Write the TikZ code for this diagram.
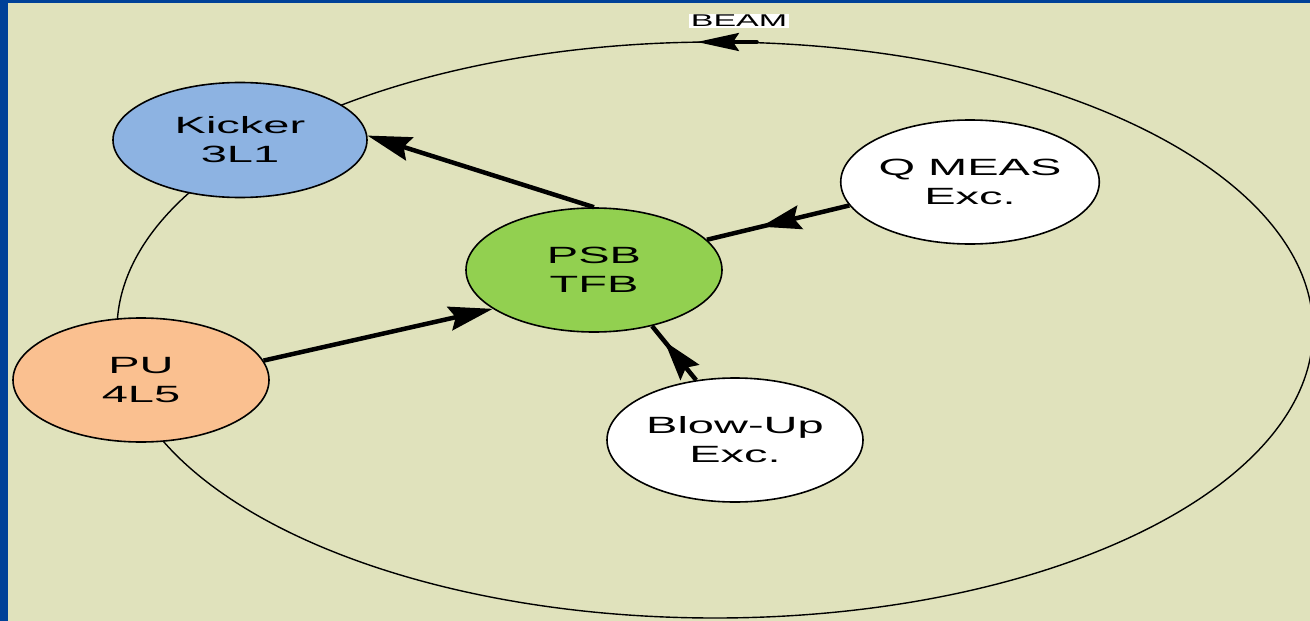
\documentclass[tikz,border=0pt]{standalone}
\usepackage{graphicx}
\usepackage{fontspec}
\setmainfont{Liberation Sans}
\usetikzlibrary{shapes.geometric,arrows.meta,decorations.markings}
\definecolor{bgc}{RGB}{224,226,188}
\definecolor{framec}{RGB}{0,65,152}
\definecolor{kickc}{RGB}{141,179,226}
\definecolor{psbc}{RGB}{146,208,80}
\definecolor{puc}{RGB}{250,192,144}
\newcommand{\widetxt}[1]{\scalebox{2}[1]{#1}}
\tikzset{
  oval/.style={ellipse, draw=black, line width=1.6pt, minimum width=256pt, minimum height=124pt, inner sep=0pt,
    align=center, font=\fontsize{23.5}{29}\selectfont},
  conn/.style={line width=4.5pt},
  endarrow/.style={conn, -{Stealth[length=44pt,width=24pt,inset=6pt]}},
  midarrow/.style={conn, postaction={decorate}, decoration={markings,
    mark=at position #1 with {\arrow{Stealth[length=40pt,width=24pt,inset=6pt]}}}}
}
\begin{document}
\begin{tikzpicture}[x=1pt,y=-1pt]
\useasboundingbox (0,0) rectangle (1310,621);
\fill[bgc] (0,0) rectangle (1310,621);
\fill[framec] (0,0) rectangle (8,621);
\fill[framec] (0,0) rectangle (1310,3);
% ring
\node[ellipse, draw=black, line width=1.4pt, minimum width=1196pt, minimum height=576pt, inner sep=0pt] (ring) at (715,330) {};
\coordinate (bs) at (757,42);
\coordinate (bt) at (697,42);
\draw[line width=3.5pt, line cap=round, -{Stealth[length=42pt,width=18pt,inset=6pt]}] (bs) -- (bt);
\node[fill=white, inner sep=1.5pt, font=\fontsize{17}{18}\selectfont] (beam) at (739,21) {\widetxt{BEAM}};
% nodes
\node[oval, fill=kickc, minimum width=254pt, minimum height=115pt] (kick) at (240,140) {\widetxt{Kicker}\\\widetxt{3L1}};
\node[oval, fill=white] (qm) at (970,182) {\widetxt{Q MEAS}\\\widetxt{Exc.}};
\node[oval, fill=psbc] (psb) at (594,270) {\widetxt{PSB}\\\widetxt{TFB}};
\node[oval, fill=puc] (pu) at (141,380) {\widetxt{PU}\\\widetxt{4L5}};
\node[oval, fill=white] (bu) at (735,440) {\widetxt{Blow-Up}\\\widetxt{Exc.}};
% connectors
\draw[endarrow] (psb.north) -- (kick.2);
\draw[endarrow] (pu.9) -- (psb.201);
\draw[midarrow=0.62] (qm.191) -- (psb.15);
\draw[midarrow=0.72] (bu.123) -- (psb.316);
\end{tikzpicture}
\end{document}
